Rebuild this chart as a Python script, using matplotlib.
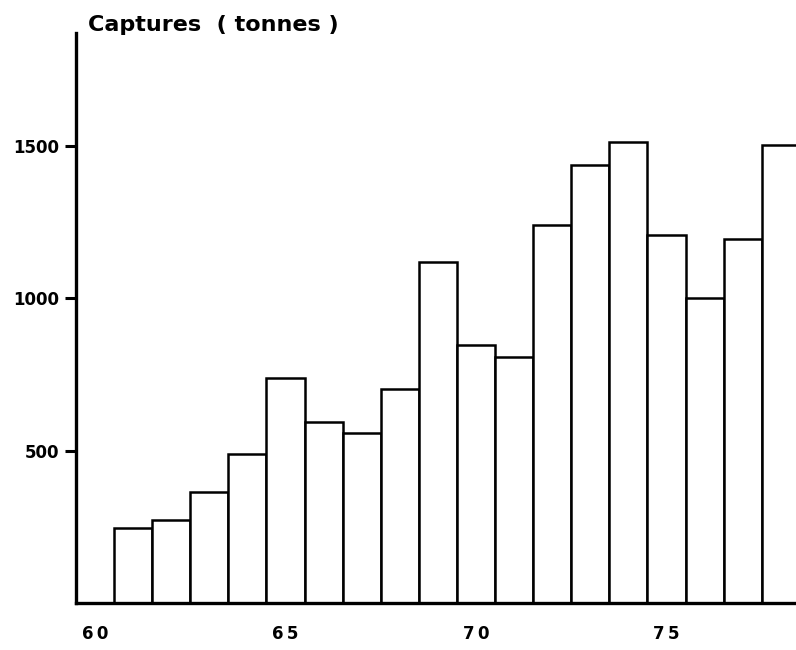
import matplotlib
matplotlib.use("Agg")
import matplotlib.pyplot as plt

# Annual catches, tonnes
years = [61, 62, 63, 64, 65, 66, 67, 68, 69, 70, 71, 72, 73, 74, 75, 76, 77, 78]
captures = [245, 272, 365, 490, 740, 595, 558, 703, 1120, 848, 808, 1240,
            1440, 1515, 1210, 1000, 1195, 1505]
year_ticks = [60, 65, 70, 75]
y_ticks = [500, 1000, 1500]

fig = plt.figure(figsize=(7.96, 6.5), dpi=100)
ax = fig.add_axes([0.0955, 0.0723, 0.9045, 0.8770])

ax.bar(years, captures, width=1.0, color="white", edgecolor="black", linewidth=1.8)

ax.set_xlim(59.5, 78.4)
ax.set_ylim(0, 1872)

for side in ("top", "right"):
    ax.spines[side].set_visible(False)
for side in ("left", "bottom"):
    ax.spines[side].set_linewidth(2.4)

ax.set_xticks(year_ticks)
ax.set_xticklabels(["\u2009".join(str(y)) for y in year_ticks])
ax.set_yticks(y_ticks)
ax.set_yticklabels([str(v) for v in y_ticks])

ax.tick_params(axis="x", length=0, pad=16)
ax.tick_params(axis="y", length=8, width=2.2, pad=4)
for lab in ax.get_xticklabels() + ax.get_yticklabels():
    lab.set_fontsize(12)
    lab.set_fontweight("bold")
    lab.set_fontfamily("DejaVu Sans")

fig.text(88 / 796, 1 - 25 / 650, "Captures  ( tonnes )",
         ha="left", va="center", fontsize=16, fontweight="bold",
         fontfamily="DejaVu Sans")

fig.savefig("out.png", dpi=100)
